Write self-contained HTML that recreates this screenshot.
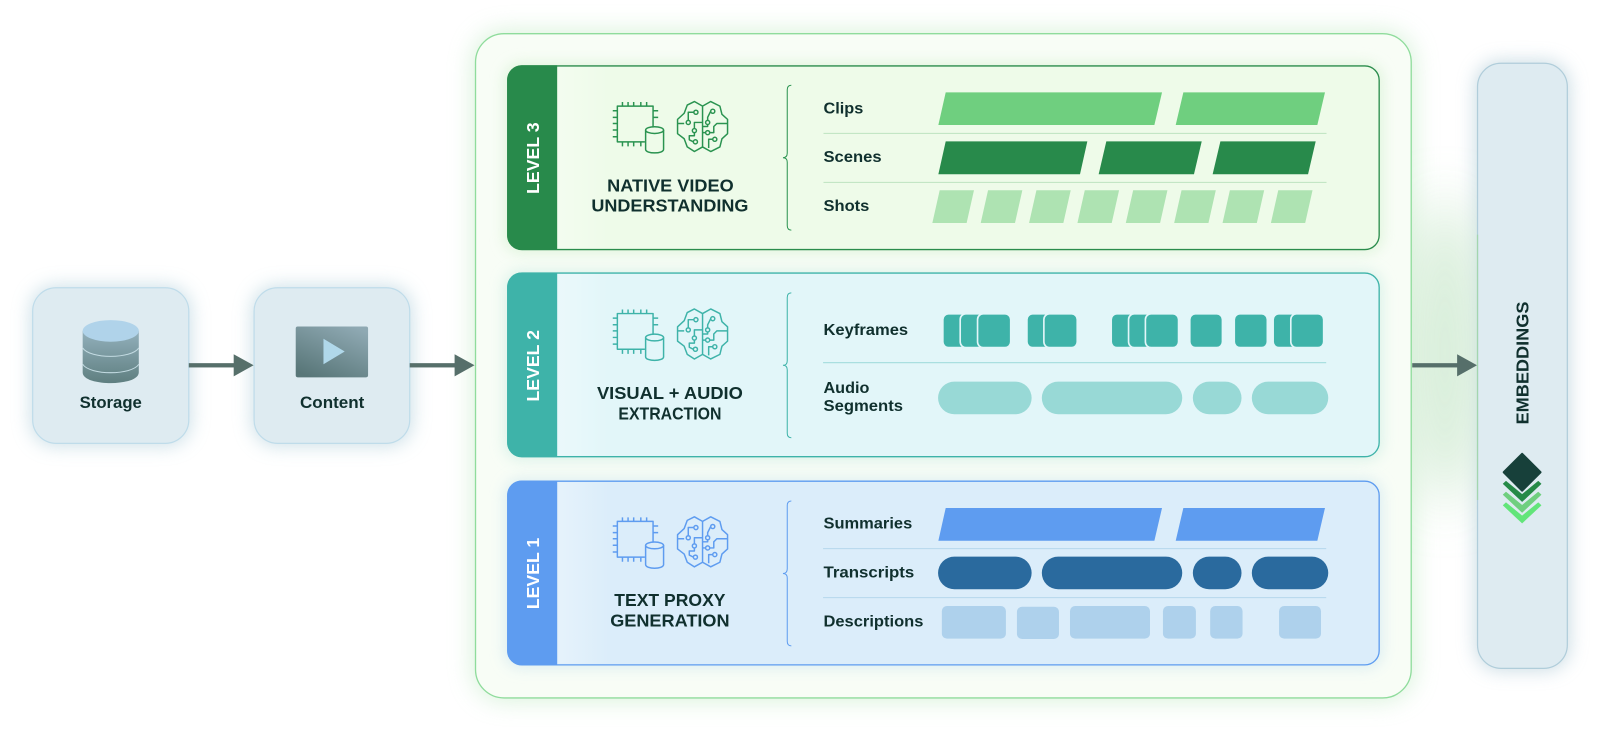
<!DOCTYPE html>
<html lang="en"><head><meta charset="utf-8"><title>Video understanding levels</title>
<style>
html,body{margin:0;padding:0;background:#fff;width:1600px;height:731px;overflow:hidden}
svg{display:block}
text{font-family:"Liberation Sans",Arial,sans-serif;font-weight:700;fill:#10302e}
.lab{font-size:15.6px}
.ttl{font-size:17.4px;text-anchor:start}
.lvl{font-size:17px;fill:#fff}
</style></head><body>
<svg width="1600" height="731" viewBox="0 0 1568 716.4" xmlns="http://www.w3.org/2000/svg">
<defs>
<filter id="b1" x="-40%" y="-40%" width="180%" height="180%"><feGaussianBlur stdDeviation="9"/></filter>
<filter id="b2" x="-20%" y="-20%" width="140%" height="140%"><feGaussianBlur stdDeviation="12"/></filter>
<filter id="b3" x="-150%" y="-80%" width="400%" height="260%"><feGaussianBlur stdDeviation="28"/></filter>
<filter id="b4" x="-10%" y="-20%" width="120%" height="140%"><feGaussianBlur stdDeviation="7"/></filter>
<linearGradient id="cyl" x1="0" y1="0" x2="0" y2="1"><stop offset="0" stop-color="#93b0bc"/><stop offset="1" stop-color="#5f7f80"/></linearGradient>
<linearGradient id="vid" x1="0.8" y1="0" x2="0.2" y2="1"><stop offset="0" stop-color="#8fa9b3"/><stop offset="1" stop-color="#587678"/></linearGradient>
<linearGradient id="shade" x1="0" y1="0" x2="1" y2="0"><stop offset="0" stop-color="#fff" stop-opacity=".3"/><stop offset="1" stop-color="#fff" stop-opacity="0"/></linearGradient>
<g id="icons" fill="none" stroke="currentColor" stroke-width="1.45" stroke-linejoin="round">
<path d="M632,139H605V104H640V124"/>
<path d="M610,100V104M615.5,100V104M621,100V104M628,100V104M633.7,100V104M600.5,108.5H605M600.5,115H605M600.5,121H605M600.5,127.4H605M600.5,134H605M640,108.5H645M640,115H645M610,139V143.5M615.5,139V143.5M621,139V143.5M628,139V143.5"/>
<ellipse cx="641.5" cy="127.5" rx="8.8" ry="3.3"/>
<path d="M632.7,127.5V146.4C632.7,151 650.3,151 650.3,146.4V127.5"/>
<g transform="translate(688.5,124)">
<path d="M0,-20L-8,-24.5L-15,-21L-18,-13L-24.5,-7V7L-18,12L-15,20L-8,24.5L0,20L8,24.5L17,20L19,12L24.5,7V-7L19,-12L17,-20L8,-24.5ZM0,-20V20"/>
<circle cx="-6.5" cy="-14" r="2"/><circle cx="-14" cy="-4" r="2"/><circle cx="-8" cy="4" r="2"/><circle cx="-7" cy="15" r="2"/>
<circle cx="10" cy="-15" r="2"/><circle cx="5" cy="-4" r="2"/><circle cx="5" cy="6" r="2"/><circle cx="12" cy="12.5" r="2"/>
<path d="M-8.5,-14H-14V-6M-24,-3H-18M-8,2V-4H0M-8,6V9H-13L-13,13L-9,15M5,-6V-9L8,-15M7,6H11V0L14,-3H24M3,6H0M10,12.5H6V21M5,-2V0H0"/>
</g>
</g>
<g id="arrow" fill="#566f6a"><rect x="0" y="-2.1" width="46" height="4.2"/><path d="M44,-10.8L63.5,0L44,10.8Z"/></g>
</defs>

<!-- glows -->
<rect x="30" y="280" width="157" height="157" rx="24" fill="#bcd6e0" opacity=".75" filter="url(#b1)"/>
<rect x="247" y="280" width="157" height="157" rx="24" fill="#bcd6e0" opacity=".75" filter="url(#b1)"/>
<rect x="464" y="31" width="921" height="655" rx="30" fill="#cdeecf" opacity=".8" filter="url(#b2)"/>
<rect x="1446" y="60" width="92" height="597" rx="24" fill="#b4ced9" opacity=".7" filter="url(#b1)"/>
<ellipse cx="1416" cy="345" rx="36" ry="150" fill="#cbe8cd" opacity=".85" filter="url(#b3)"/>

<!-- left boxes -->
<rect x="32" y="282" width="153" height="152.5" rx="23" fill="#deebf1" stroke="#bfdcea" stroke-width="1.2"/>
<rect x="249" y="282" width="152.5" height="152.5" rx="23" fill="#deebf1" stroke="#bfdcea" stroke-width="1.2"/>
<path d="M81,324.3V364.9C81,379 136,379 136,364.9V324.3Z" fill="url(#cyl)"/>
<ellipse cx="108.5" cy="324.3" rx="27.5" ry="10.6" fill="#b0d3ea"/>
<path d="M81,341C88,352 129,352 136,341M81,357C88,368 129,368 136,357" fill="none" stroke="#c3dbe2" stroke-width="1"/>
<text x="78" y="400" textLength="61" lengthAdjust="spacingAndGlyphs" style="font-size:16.2px">Storage</text>
<rect x="289.8" y="320" width="70.9" height="49.8" rx="2" fill="url(#vid)"/>
<path d="M317,332V357L337.8,344.5Z" fill="#b0d8ea"/>
<text x="294" y="400" textLength="63" lengthAdjust="spacingAndGlyphs" style="font-size:16.2px">Content</text>

<use href="#arrow" x="185" y="358"/>
<use href="#arrow" x="401.5" y="358"/>

<!-- outer container -->
<rect x="466" y="33" width="917" height="651" rx="28" fill="#f8fdf6" stroke="#8fdc9c" stroke-width="1.3"/>
<rect x="494" y="62" width="861" height="186" rx="16" fill="#d9f2d6" opacity=".8" filter="url(#b4)"/>
<rect x="494" y="265" width="861" height="186" rx="16" fill="#d3efe6" opacity=".8" filter="url(#b4)"/>
<rect x="494" y="469" width="861" height="186" rx="16" fill="#d6eaf0" opacity=".8" filter="url(#b4)"/>
<use href="#arrow" x="1384" y="358"/>

<!-- Level 3 -->
<rect x="497.6" y="64.6" width="854" height="180" rx="14" fill="#eefbe9" stroke="#2a8c4c" stroke-width="1.3"/>
<path d="M546,64H511A14,14 0 0 0 497,78V231A14,14 0 0 0 511,245H546Z" fill="#288a4b"/>
<rect x="547" y="65.5" width="50" height="178" fill="url(#shade)"/>
<text class="lvl" transform="translate(528,190) rotate(-90)" textLength="70" lengthAdjust="spacingAndGlyphs">LEVEL 3</text>
<use href="#icons" style="color:#2a9350"/>
<text class="ttl" x="595" y="187.5" textLength="124" lengthAdjust="spacingAndGlyphs">NATIVE VIDEO</text>
<text class="ttl" x="579.5" y="207.5" textLength="154" lengthAdjust="spacingAndGlyphs">UNDERSTANDING</text>
<path d="M775.5,83.5Q771.5,83.5 771.5,88V150Q771.5,154.6 767.3,154.6Q771.5,154.6 771.5,159V221Q771.5,225.5 775.5,225.5" fill="none" stroke="#2a9350" stroke-width="1"/>
<text class="lab" x="807" y="111" textLength="39" lengthAdjust="spacingAndGlyphs">Clips</text>
<text class="lab" x="807" y="159" textLength="57" lengthAdjust="spacingAndGlyphs">Scenes</text>
<text class="lab" x="807" y="207" textLength="45" lengthAdjust="spacingAndGlyphs">Shots</text>
<path d="M807,130.7H1300M807,178.7H1300" stroke="#bde3c0" stroke-width="1"/>
<g fill="#6fcf7f">
<path d="M926.8,90.5H1138.8L1131.3,122.5H919.6Z"/><path d="M1159.7,90.5H1298.5L1291,122.5H1152.2Z"/>
</g>
<g fill="#288a4b">
<path d="M926.8,138.5H1065.6L1058.4,170.8H919.6Z"/><path d="M1084.2,138.5H1177.7L1170.1,170.8H1076.7Z"/><path d="M1196,138.5H1289.4L1281.9,170.8H1188.4Z"/>
</g>
<g fill="#aee3b2">
<path d="M920.9,186.5H954.5L947.3,218.5H913.7Z"/>
<path d="M968.3,186.5H1001.9L994.7,218.5H961.1Z"/>
<path d="M1015.7,186.5H1049.3L1042.1,218.5H1008.5Z"/>
<path d="M1063.1,186.5H1096.7L1089.5,218.5H1055.9Z"/>
<path d="M1110.5,186.5H1144.1L1136.9,218.5H1103.3Z"/>
<path d="M1157.9,186.5H1191.5L1184.3,218.5H1150.7Z"/>
<path d="M1205.3,186.5H1238.9L1231.7,218.5H1198.1Z"/>
<path d="M1252.7,186.5H1286.3L1279.1,218.5H1245.5Z"/>
</g>

<!-- Level 2 -->
<rect x="497.6" y="267.6" width="854" height="180" rx="14" fill="#e2f6f9" stroke="#3eb3a9" stroke-width="1.3"/>
<path d="M546,267H511A14,14 0 0 0 497,281V434A14,14 0 0 0 511,448H546Z" fill="#3eb3a9"/>
<rect x="547" y="268.5" width="50" height="178" fill="url(#shade)"/>
<text class="lvl" transform="translate(528,393.5) rotate(-90)" textLength="70" lengthAdjust="spacingAndGlyphs">LEVEL 2</text>
<use href="#icons" y="203.3" style="color:#3eb3a9"/>
<text class="ttl" x="585" y="391" textLength="143" lengthAdjust="spacingAndGlyphs">VISUAL + AUDIO</text>
<text class="ttl" x="606" y="411" textLength="101" lengthAdjust="spacingAndGlyphs">EXTRACTION</text>
<path d="M775.5,287Q771.5,287 771.5,291.5V353.5Q771.5,358 767.3,358Q771.5,358 771.5,362.5V424.5Q771.5,429 775.5,429" fill="none" stroke="#3eb3a9" stroke-width="1"/>
<text class="lab" x="807" y="328.5" textLength="83" lengthAdjust="spacingAndGlyphs">Keyframes</text>
<text class="lab" x="807" y="385" textLength="45" lengthAdjust="spacingAndGlyphs">Audio</text>
<text class="lab" x="807" y="403" textLength="78" lengthAdjust="spacingAndGlyphs">Segments</text>
<path d="M806.6,355.4H1299.7" stroke="#a9dfe0" stroke-width="1.2"/>
<g fill="#3eb3a9" stroke="#e2f6f9" stroke-width="1.6">
<rect x="924" y="307.6" width="32" height="33" rx="5.5"/><rect x="941" y="307.6" width="32" height="33" rx="5.5"/><rect x="958" y="307.6" width="32.5" height="33" rx="5.5"/>
<rect x="1006.4" y="307.6" width="32" height="33" rx="5.5"/><rect x="1023" y="307.6" width="32.7" height="33" rx="5.5"/>
<rect x="1089" y="307.6" width="32" height="33" rx="5.5"/><rect x="1106" y="307.6" width="32" height="33" rx="5.5"/><rect x="1122.5" y="307.6" width="32.5" height="33" rx="5.5"/>
<rect x="1166" y="307.6" width="32" height="33" rx="5.5"/>
<rect x="1209.6" y="307.6" width="32.4" height="33" rx="5.5"/>
<rect x="1247.7" y="307.6" width="32" height="33" rx="5.5"/><rect x="1265" y="307.6" width="32.2" height="33" rx="5.5"/>
</g>
<g fill="#98d9d6">
<rect x="919.3" y="374" width="91.7" height="32" rx="16"/><rect x="1021" y="374" width="137.6" height="32" rx="16"/><rect x="1169" y="374" width="47.7" height="32" rx="16"/><rect x="1226.8" y="374" width="74.9" height="32" rx="16"/>
</g>

<!-- Level 1 -->
<rect x="497.6" y="471.6" width="854" height="180" rx="14" fill="#dbedfa" stroke="#5e9cf0" stroke-width="1.3"/>
<path d="M546,471H511A14,14 0 0 0 497,485V638A14,14 0 0 0 511,652H546Z" fill="#5e9cf0"/>
<rect x="547" y="472.5" width="50" height="178" fill="url(#shade)"/>
<text class="lvl" transform="translate(528,597) rotate(-90)" textLength="70" lengthAdjust="spacingAndGlyphs">LEVEL 1</text>
<use href="#icons" y="407" style="color:#5e9cf0"/>
<text class="ttl" x="602" y="594" textLength="109" lengthAdjust="spacingAndGlyphs">TEXT PROXY</text>
<text class="ttl" x="598" y="614" textLength="117" lengthAdjust="spacingAndGlyphs">GENERATION</text>
<path d="M775.5,491Q771.5,491 771.5,495.5V557.5Q771.5,562 767.3,562Q771.5,562 771.5,566.5V628.5Q771.5,633 775.5,633" fill="none" stroke="#5e9cf0" stroke-width="1"/>
<text class="lab" x="807" y="518" textLength="87" lengthAdjust="spacingAndGlyphs">Summaries</text>
<text class="lab" x="807" y="566" textLength="89" lengthAdjust="spacingAndGlyphs">Transcripts</text>
<text class="lab" x="807" y="614" textLength="98" lengthAdjust="spacingAndGlyphs">Descriptions</text>
<path d="M806.6,537.7H1299.7M806.6,585.7H1299.7" stroke="#b5d8ec" stroke-width="1"/>
<g fill="#5e9cf0">
<path d="M926.8,497.8H1138.8L1131.3,529.9H919.6Z"/><path d="M1159.7,497.8H1298.5L1291,529.9H1152.2Z"/>
</g>
<g fill="#2a6a9e">
<rect x="919.3" y="545.5" width="91.7" height="32" rx="16"/><rect x="1021" y="545.5" width="137.6" height="32" rx="16"/><rect x="1169" y="545.5" width="47.7" height="32" rx="16"/><rect x="1226.8" y="545.5" width="74.9" height="32" rx="16"/>
</g>
<g fill="#aed1ec">
<rect x="923" y="593.9" width="62.8" height="32" rx="5"/><rect x="996.6" y="594.6" width="41.2" height="31.6" rx="5"/><rect x="1048.6" y="593.9" width="78.4" height="32" rx="5"/><rect x="1139.7" y="593.9" width="32.3" height="32" rx="5"/><rect x="1186" y="593.9" width="31.7" height="32" rx="5"/><rect x="1253.5" y="593.9" width="41.1" height="32" rx="5"/>
</g>

<!-- Embeddings -->
<rect x="1448" y="62" width="88" height="593" rx="23" fill="#deebf1" stroke="#b0cdda" stroke-width="1.2"/>
<path d="M1448,230V490" stroke="#a3d6ae" stroke-width="1.2"/>
<text transform="translate(1498,416) rotate(-90)" textLength="120.5" lengthAdjust="spacingAndGlyphs" style="font-size:17px">EMBEDDINGS</text>
<g transform="translate(1491.7,0)" stroke-linejoin="round" stroke-width="0.5">
<path d="M-18.6,495.2L0,512.6L18.6,495.2L15.8,492.6L0,505.6L-15.8,492.6Z" fill="#62e57a" stroke="#62e57a"/>
<path d="M-18.6,484.8L0,502.2L18.6,484.8L15.8,482.2L0,495.2L-15.8,482.2Z" fill="#6fcf7f" stroke="#6fcf7f"/>
<path d="M-18.6,474.2L0,491.6L18.6,474.2L15.8,471.6L0,484.6L-15.8,471.6Z" fill="#258a47" stroke="#258a47"/>
<path d="M0,445L17.8,462.8L0,480.6L-17.8,462.8Z" fill="#17403a" stroke="#17403a" stroke-width="2.4"/>
</g>
</svg>
</body></html>
